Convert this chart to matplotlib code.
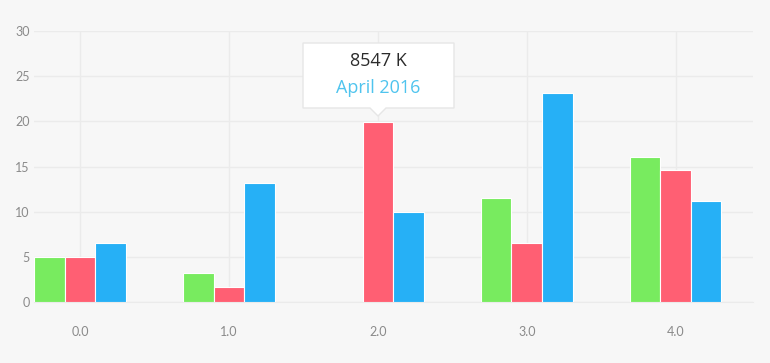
import numpy as np
import matplotlib
matplotlib.use('Agg')
import matplotlib.pyplot as plt
from matplotlib.patches import Polygon

# data
categories = [0.0, 1.0, 2.0, 3.0, 4.0]
tick_labels = ['0.0', '1.0', '2.0', '3.0', '4.0']
green_vals = [5.0, 3.2, 0.0, 11.5, 16.05]
red_vals = [5.0, 1.65, 19.9, 6.5, 14.6]
blue_vals = [6.5, 13.2, 10.0, 23.1, 11.2]
y_ticks = [0, 5, 10, 15, 20, 25, 30]
tip_value = '8547 K'
tip_label = 'April 2016'

BG = '#f7f7f7'
GRID = '#ebebeb'
colors = ['#78eb5f', '#ff5f73', '#26b0f6']

W, H = 770, 363
fig = plt.figure(figsize=(W / 100, H / 100), dpi=100, facecolor=BG)
ax = fig.add_axes([34 / W, 1 - 302 / H, (753 - 34) / W, (302 - 31) / H])
ax.set_facecolor(BG)

x = np.array(categories)
width = 0.205
for k, (vals, c) in enumerate(zip([green_vals, red_vals, blue_vals], colors)):
    ax.bar(x + (k - 1) * width, vals, width, color=c, edgecolor='white',
           linewidth=0.8, zorder=3)

ax.set_xlim(-0.31, 4.52)
ax.set_ylim(0, 30)
ax.set_yticks(y_ticks)
ax.set_xticks(categories)
ax.set_xticklabels(tick_labels)
ax.grid(True, color=GRID, linewidth=1, zorder=0)
for s in ['top', 'right', 'left']:
    ax.spines[s].set_visible(False)
ax.spines['bottom'].set_color(GRID)
ax.tick_params(length=0, labelsize=9, labelcolor='#8a8a8a', pad=3)
ax.tick_params(axis='x', pad=17)
for lab in ax.get_xticklabels() + ax.get_yticklabels():
    lab.set_fontfamily('Lato')

# tooltip above the 2.0 red bar
def fp(px, py):
    return (px / W, 1 - py / H)

box = [fp(303, 43), fp(454, 43), fp(454, 108), fp(386, 108), fp(378, 116),
       fp(370, 108), fp(303, 108)]
fig.patches.append(Polygon(box, closed=True, transform=fig.transFigure,
                           facecolor='white', edgecolor='#e6e6e6', linewidth=1,
                           zorder=10))
fig.text(*fp(378, 61), tip_value, ha='center', va='center', fontsize=13,
         color='#2b2b2b', family='Open Sans', zorder=11)
fig.text(*fp(378, 88), tip_label, ha='center', va='center', fontsize=13,
         color='#4fc4ee', family='Open Sans', zorder=11)

fig.savefig('out.png', dpi=100, facecolor=BG)
